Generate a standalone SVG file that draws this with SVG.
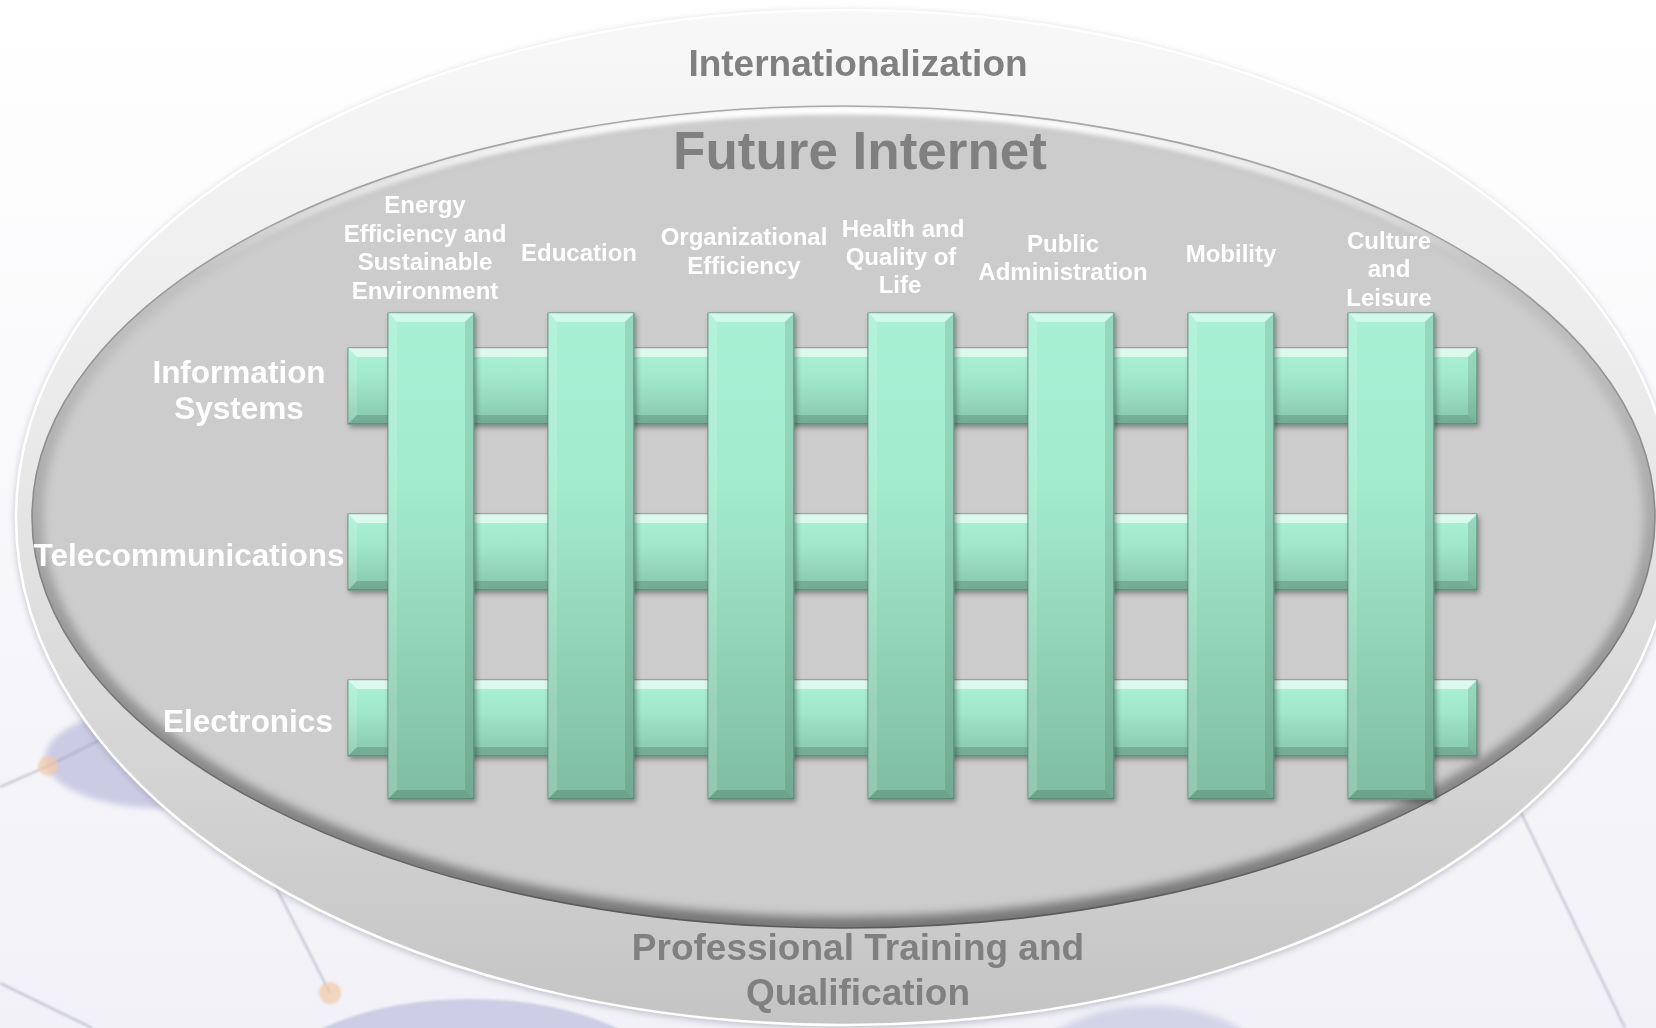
<svg xmlns="http://www.w3.org/2000/svg" width="1656" height="1028" viewBox="0 0 1656 1028">
<defs>
  <linearGradient id="bgG" x1="0" y1="0" x2="0" y2="1">
    <stop offset="0" stop-color="#ffffff"/>
    <stop offset="1" stop-color="#f1f1f7"/>
  </linearGradient>
  <linearGradient id="outerG" x1="0" y1="0" x2="0" y2="1">
    <stop offset="0" stop-color="#f8f8f8"/>
    <stop offset="0.45" stop-color="#e8e8e8"/>
    <stop offset="0.78" stop-color="#d2d2d2"/>
    <stop offset="1" stop-color="#c4c4c4"/>
  </linearGradient>
  <linearGradient id="innerEdge" x1="0" y1="0" x2="0" y2="1">
    <stop offset="0" stop-color="#a8a8a8"/>
    <stop offset="0.5" stop-color="#8a8a8a"/>
    <stop offset="1" stop-color="#5a5a5a"/>
  </linearGradient>
  <linearGradient id="innerHi" x1="0" y1="0" x2="0" y2="1">
    <stop offset="0" stop-color="#ffffff" stop-opacity="1"/>
    <stop offset="0.2" stop-color="#ffffff" stop-opacity="0"/>
  </linearGradient>
  <linearGradient id="innerSh" x1="0" y1="0" x2="0" y2="1">
    <stop offset="0" stop-color="#000" stop-opacity="0"/>
    <stop offset="0.3" stop-color="#000" stop-opacity="0.08"/>
    <stop offset="1" stop-color="#000" stop-opacity="0.42"/>
  </linearGradient>
  <linearGradient id="gv" x1="0" y1="0" x2="0" y2="1">
    <stop offset="0" stop-color="#a7f0d5"/>
    <stop offset="0.35" stop-color="#a2ebcf"/>
    <stop offset="1" stop-color="#7fbda4"/>
  </linearGradient>
  <linearGradient id="gh" x1="0" y1="0" x2="0" y2="1">
    <stop offset="0" stop-color="#abf2d7"/>
    <stop offset="0.4" stop-color="#a0e8cc"/>
    <stop offset="1" stop-color="#86c6ac"/>
  </linearGradient>
  <clipPath id="innerClip"><ellipse cx="843.5" cy="517" rx="811.5" ry="411"/></clipPath>
  <filter id="sh" x="-5%" y="-5%" width="115%" height="125%">
    <feDropShadow dx="2" dy="3" stdDeviation="2.5" flood-color="#000" flood-opacity="0.35"/>
  </filter>
  <filter id="outerSh" x="-5%" y="-5%" width="110%" height="110%">
    <feDropShadow dx="0" dy="2" stdDeviation="3" flood-color="#808090" flood-opacity="0.45"/>
  </filter>
  <filter id="blur5" x="-10%" y="-10%" width="120%" height="120%"><feGaussianBlur stdDeviation="5"/></filter>
  <filter id="blur2" x="-10%" y="-10%" width="120%" height="120%"><feGaussianBlur stdDeviation="2"/></filter>
  <filter id="blur3" x="-20%" y="-20%" width="140%" height="140%"><feGaussianBlur stdDeviation="3"/></filter>
  <filter id="blur1"><feGaussianBlur stdDeviation="1"/></filter>
  <g id="vbar">
    <rect width="86" height="486" fill="url(#gv)" stroke="#5b8c78" stroke-width="1"/>
    <polygon points="0,0 86,0 77,9 9,9" fill="#ffffff" opacity="0.5"/>
    <polygon points="0,0 9,9 9,477 0,486" fill="#ffffff" opacity="0.15"/>
    <polygon points="86,0 86,486 77,477 77,9" fill="#000000" opacity="0.1"/>
    <polygon points="0,486 86,486 77,477 9,477" fill="#000000" opacity="0.14"/>
  </g>
  <g id="hbar">
    <rect width="1129" height="76" fill="url(#gh)" stroke="#5b8c78" stroke-width="1"/>
    <polygon points="0,0 1129,0 1120,9 9,9" fill="#ffffff" opacity="0.6"/>
    <polygon points="0,0 9,9 9,67 0,76" fill="#ffffff" opacity="0.15"/>
    <polygon points="1129,0 1129,76 1120,67 1120,9" fill="#000000" opacity="0.1"/>
    <polygon points="0,76 1129,76 1120,67 9,67" fill="#000000" opacity="0.14"/>
  </g>
</defs>
<style>
  .lblDark { font-family: "Liberation Sans", Arial, sans-serif; font-weight: bold; fill: #808080; text-anchor: middle; }
  .col { font-family: "Liberation Sans", Arial, sans-serif; font-weight: bold; font-size: 24px; fill: #ffffff; text-anchor: middle; }
  .row { font-family: "Liberation Sans", Arial, sans-serif; font-weight: bold; font-size: 31.5px; fill: #ffffff; text-anchor: middle; }
  .bgline { stroke: #a4a4b8; stroke-width: 2; fill: none; opacity: 0.6; }
</style>

<!-- background -->
<rect x="0" y="0" width="1656" height="1028" fill="url(#bgG)"/>
<g id="background-decor">
  <ellipse cx="160" cy="758" rx="115" ry="50" fill="#cbcbe4" filter="url(#blur3)"/>
  <ellipse cx="470" cy="1095" rx="205" ry="96" fill="#cdcde5" filter="url(#blur1)"/>
  <ellipse cx="1150" cy="1090" rx="130" ry="85" fill="#d4d4e8" filter="url(#blur3)"/>
  <g filter="url(#blur1)">
    <line class="bgline" x1="0" y1="787" x2="48" y2="766"/>
    <line class="bgline" x1="48" y1="766" x2="120" y2="730"/>
    <line class="bgline" x1="238" y1="813" x2="330" y2="993"/>
    <line class="bgline" x1="0" y1="983" x2="92" y2="1028"/>
    <line class="bgline" x1="1515" y1="800" x2="1625" y2="1028"/>
    <line class="bgline" x1="1646" y1="621" x2="1656" y2="622"/>
    <circle cx="48" cy="766" r="10" fill="#f2c9a6" opacity="0.7"/>
    <circle cx="330" cy="993" r="11" fill="#f2c9a6" opacity="0.7"/>
  </g>
</g>

<!-- outer ellipse: Internationalization / Professional Training -->
<g id="outer-ring">
  <ellipse cx="845" cy="517.5" rx="829" ry="507.5" fill="url(#outerG)" stroke="#ffffff" stroke-width="2.5" filter="url(#outerSh)"/>
  <text class="lblDark" x="858" y="76" font-size="37">Internationalization</text>
  <text class="lblDark" x="858" y="960" font-size="37">Professional Training and</text>
  <text class="lblDark" x="858" y="1005" font-size="37">Qualification</text>
</g>

<!-- inner ellipse: Future Internet -->
<g id="future-internet">
  <ellipse cx="843.5" cy="517" rx="811.5" ry="411" fill="#cccccc"/>
  <g clip-path="url(#innerClip)">
    <ellipse cx="843.5" cy="517" rx="811.5" ry="411" fill="none" stroke="url(#innerSh)" stroke-width="22" filter="url(#blur5)"/>
    <ellipse cx="843.5" cy="519" rx="809" ry="409" fill="none" stroke="url(#innerHi)" stroke-width="9" filter="url(#blur2)"/>
  </g>
  <ellipse cx="843.5" cy="517" rx="811.5" ry="411" fill="none" stroke="url(#innerEdge)" stroke-width="1.6"/>
  <text class="lblDark" x="860" y="169" font-size="53">Future Internet</text>
</g>

<!-- rows (horizontal bars) -->
<g id="row-information-systems">
  <use href="#hbar" x="348" y="348" filter="url(#sh)"/>
  <text class="row" x="239" y="383">Information</text>
  <text class="row" x="239" y="419">Systems</text>
</g>
<g id="row-telecommunications">
  <use href="#hbar" x="348" y="514" filter="url(#sh)"/>
  <text class="row" x="189" y="566">Telecommunications</text>
</g>
<g id="row-electronics">
  <use href="#hbar" x="348" y="680" filter="url(#sh)"/>
  <text class="row" x="248" y="732">Electronics</text>
</g>

<!-- columns (vertical bars) -->
<g id="col-energy">
  <use href="#vbar" x="388" y="313" filter="url(#sh)"/>
  <text class="col" x="425" y="213">Energy</text>
  <text class="col" x="425" y="242">Efficiency and</text>
  <text class="col" x="425" y="270">Sustainable</text>
  <text class="col" x="425" y="299">Environment</text>
</g>
<g id="col-education">
  <use href="#vbar" x="548" y="313" filter="url(#sh)"/>
  <text class="col" x="579" y="261">Education</text>
</g>
<g id="col-organizational">
  <use href="#vbar" x="708" y="313" filter="url(#sh)"/>
  <text class="col" x="744" y="245">Organizational</text>
  <text class="col" x="744" y="274">Efficiency</text>
</g>
<g id="col-health">
  <use href="#vbar" x="868" y="313" filter="url(#sh)"/>
  <text class="col" x="903" y="237">Health and</text>
  <text class="col" x="901" y="265">Quality of</text>
  <text class="col" x="900" y="293">Life</text>
</g>
<g id="col-public">
  <use href="#vbar" x="1028" y="313" filter="url(#sh)"/>
  <text class="col" x="1063" y="252">Public</text>
  <text class="col" x="1063" y="280">Administration</text>
</g>
<g id="col-mobility">
  <use href="#vbar" x="1188" y="313" filter="url(#sh)"/>
  <text class="col" x="1231" y="262">Mobility</text>
</g>
<g id="col-culture">
  <use href="#vbar" x="1348" y="313" filter="url(#sh)"/>
  <text class="col" x="1389" y="249">Culture</text>
  <text class="col" x="1389" y="277">and</text>
  <text class="col" x="1389" y="306">Leisure</text>
</g>

<g id="connectors"/>
</svg>
